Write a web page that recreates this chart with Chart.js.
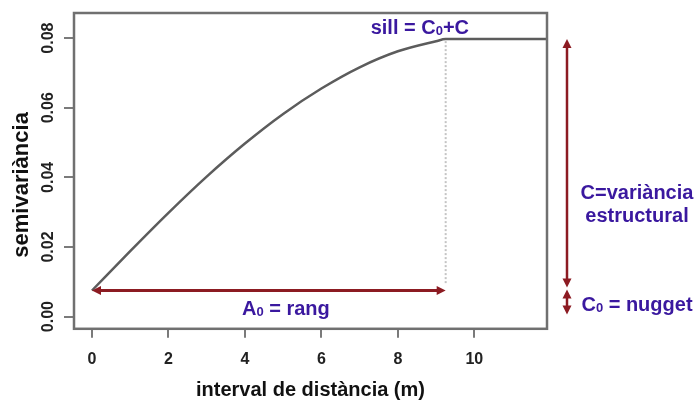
<!DOCTYPE html>
<html lang="ca">
<head>
<meta charset="utf-8">
<title>Semivariograma</title>
<script src="https://cdn.jsdelivr.net/npm/chart.js@4.4.1/dist/chart.umd.min.js"></script>
<style>
  html, body { margin: 0; padding: 0; background: #fff; }
</style>
</head>
<body>
<canvas id="semivariograma" width="695" height="400"></canvas>
<script>
// Semivariograma experimental ajustat (model esferic)
const distancia = [0, 1, 2, 3, 4, 5, 6, 7, 8, 9, 9.25, 12];
const semivariancia = [0.0075, 0.0188, 0.0298, 0.0402, 0.0497, 0.0582, 0.0655, 0.0716, 0.0762, 0.0791, 0.0797, 0.0797];

const xTicks = [0, 2, 4, 6, 8, 10];
const xTickLabels = ["0", "2", "4", "6", "8", "10"];
const yTicks = [0, 0.02, 0.04, 0.06, 0.08];
const yTickLabels = ["0.00", "0.02", "0.04", "0.06", "0.08"];

// parametres del model
const nugget = 0.0075;
const sill = 0.0797;
const rang = 9.25;

const FONT = "'Liberation Sans', Arial, sans-serif";
const GRIS = "#707070";
const VERMELL = "#8c1b22";
const LILA = "#3a189f";

Chart.defaults.font.family = FONT;

// linia amb punta de fletxa a un o als dos extrems
function fletxa(ctx, x1, y1, x2, y2, inici, fi) {
  const ang = Math.atan2(y2 - y1, x2 - x1);
  const llarg = 9, ample = 4.5;
  const cos = Math.cos(ang), sin = Math.sin(ang);
  const ax = inici ? x1 + cos * (llarg - 2) : x1;
  const ay = inici ? y1 + sin * (llarg - 2) : y1;
  const bx = fi ? x2 - cos * (llarg - 2) : x2;
  const by = fi ? y2 - sin * (llarg - 2) : y2;
  ctx.beginPath();
  ctx.moveTo(ax, ay);
  ctx.lineTo(bx, by);
  ctx.stroke();

  function punta(px, py, a) {
    const c = Math.cos(a), s = Math.sin(a);
    ctx.beginPath();
    ctx.moveTo(px, py);
    ctx.lineTo(px - c * llarg - s * ample, py - s * llarg + c * ample);
    ctx.lineTo(px - c * llarg + s * ample, py - s * llarg - c * ample);
    ctx.closePath();
    ctx.fill();
  }
  if (fi) punta(x2, y2, ang);
  if (inici) punta(x1, y1, ang + Math.PI);
}

// text en negreta amb trossos en subindex, p.ex. C0
function textSubindex(ctx, trossos, x, y, align) {
  const normal = "bold 20px " + FONT;
  const petit = "bold 13px " + FONT;
  let total = 0;
  trossos.forEach(function (t) {
    ctx.font = t[1] ? petit : normal;
    total += ctx.measureText(t[0]).width;
  });
  let cx = align === "center" ? x - total / 2 : x;
  ctx.textAlign = "left";
  ctx.textBaseline = "alphabetic";
  trossos.forEach(function (t) {
    ctx.font = t[1] ? petit : normal;
    ctx.fillText(t[0], cx, t[1] ? y + 1 : y);
    cx += ctx.measureText(t[0]).width;
  });
}

const anotacions = {
  id: "anotacions",
  afterDraw(chart) {
    const ctx = chart.ctx;
    const area = chart.chartArea;
    const xs = chart.scales.x;
    const ys = chart.scales.y;
    ctx.save();

    // marc del grafic
    ctx.strokeStyle = GRIS;
    ctx.lineWidth = 2.5;
    ctx.strokeRect(area.left, area.top, area.right - area.left, area.bottom - area.top);

    // etiquetes de l'eix y, girades com a R
    ctx.fillStyle = "#222";
    ctx.font = "bold 16px " + FONT;
    ctx.textAlign = "center";
    ctx.textBaseline = "middle";
    ys.ticks.forEach(function (t, i) {
      ctx.save();
      ctx.translate(area.left - 25, ys.getPixelForValue(t.value));
      ctx.rotate(-Math.PI / 2);
      ctx.fillText(yTickLabels[i], 0, 0);
      ctx.restore();
    });

    // titol de l'eix y
    ctx.save();
    ctx.fillStyle = "#111";
    ctx.font = "bold 22px " + FONT;
    ctx.translate(area.left - 52, (area.top + area.bottom) / 2 + 14);
    ctx.rotate(-Math.PI / 2);
    ctx.fillText("semivariància", 0, 0);
    ctx.restore();

    const xR = xs.getPixelForValue(rang);
    const yS = ys.getPixelForValue(sill);
    const yN = ys.getPixelForValue(nugget);
    const y0 = ys.getPixelForValue(0);

    // linia puntejada al rang
    ctx.strokeStyle = "#c4c4c4";
    ctx.lineWidth = 2;
    ctx.setLineDash([2, 2]);
    ctx.beginPath();
    ctx.moveTo(xR, yS + 2);
    ctx.lineTo(xR, yN - 6);
    ctx.stroke();
    ctx.setLineDash([]);

    // fletxes vermelles
    ctx.strokeStyle = VERMELL;
    ctx.fillStyle = VERMELL;
    ctx.lineWidth = 3;
    fletxa(ctx, xs.getPixelForValue(0), yN, xR, yN, true, true);

    const xV = area.right + 20;
    ctx.lineWidth = 2.5;
    fletxa(ctx, xV, yS, xV, yN - 3, true, true);
    fletxa(ctx, xV, yN - 1, xV, y0 - 2, true, true);

    // textos
    ctx.fillStyle = LILA;
    textSubindex(ctx, [["sill = C", false], ["0", true], ["+C", false]], xR - 75, yS - 5, "left");
    textSubindex(ctx, [["A", false], ["0", true], [" = rang", false]], xs.getPixelForValue(0) + 150, yN + 24, "left");
    textSubindex(ctx, [["C=variància", false]], xV + 70, yN - 92, "center");
    textSubindex(ctx, [["estructural", false]], xV + 70, yN - 69, "center");
    textSubindex(ctx, [["C", false], ["0", true], [" = nugget", false]], xV + 70, yN + 20, "center");

    ctx.restore();
  }
};

new Chart(document.getElementById("semivariograma"), {
  type: "line",
  data: {
    datasets: [
      {
        label: "semivariància",
        data: distancia.map(function (d, i) { return { x: d, y: semivariancia[i] }; }),
        borderColor: "#5c5c5c",
        borderWidth: 2.5,
        pointRadius: 0,
        cubicInterpolationMode: "monotone",
        fill: false
      }
    ]
  },
  options: {
    responsive: false,
    animation: false,
    devicePixelRatio: 1,
    layout: { padding: { left: 64, top: 13, right: 148, bottom: 0 } },
    plugins: {
      legend: { display: false },
      tooltip: { enabled: false }
    },
    scales: {
      x: {
        type: "linear",
        min: -0.47,
        max: 11.9,
        afterBuildTicks: function (scale) {
          scale.ticks = xTicks.map(function (v) { return { value: v }; });
        },
        ticks: {
          padding: 12,
          color: "#222",
          font: { size: 16, weight: "bold" },
          callback: function (val, i) { return xTickLabels[i]; }
        },
        grid: { drawOnChartArea: false, tickLength: 9, color: "#7a7a7a", lineWidth: 2 },
        border: { display: false },
        title: {
          display: true,
          text: "interval de distància (m)",
          color: "#111",
          font: { size: 20, weight: "bold", lineHeight: 1 },
          padding: { top: -1, bottom: 0 }
        }
      },
      y: {
        type: "linear",
        min: -0.0035,
        max: 0.0872,
        afterBuildTicks: function (scale) {
          scale.ticks = yTicks.map(function (v) { return { value: v }; });
        },
        ticks: { display: false },
        grid: { drawOnChartArea: false, tickLength: 10, color: "#7a7a7a", lineWidth: 2 },
        border: { display: false },
        title: { display: false }
      }
    }
  },
  plugins: [anotacions]
});
</script>
</body>
</html>
